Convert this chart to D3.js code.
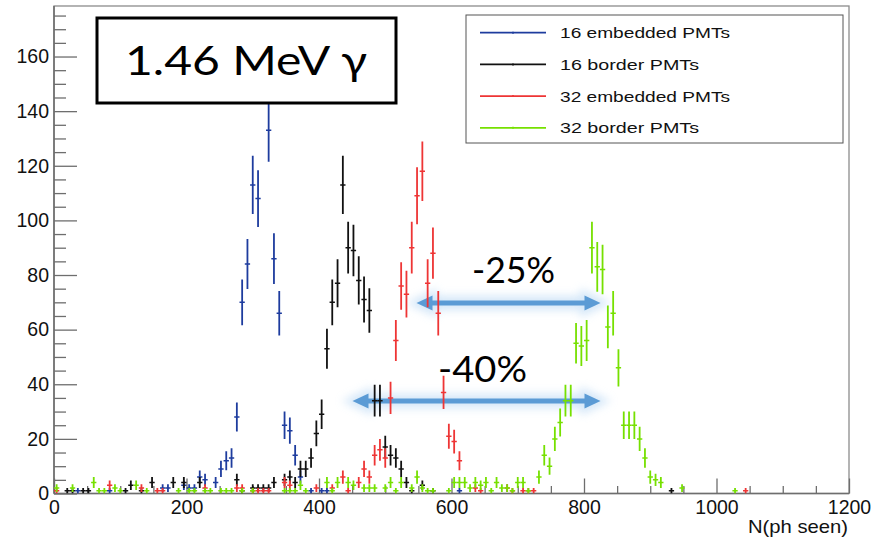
<!DOCTYPE html>
<html><head><meta charset="utf-8">
<script src="https://cdn.jsdelivr.net/npm/d3@7"></script>
<style>body{margin:0;background:#fff}svg{display:block}</style>
</head><body><svg id="c" width="874" height="540"></svg>
<script>
// ---- data: histogram bin centres (N photons seen) and counts ----
const seriesNames = ["16 embedded PMTs","16 border PMTs","32 embedded PMTs","32 border PMTs"];
const blueX = [36,84,164,172,196,204,212,220,228,244,252,260,268,276,284,292,300,308,316,324,332,340,348,356,364,372,388,404,412,612];
const blueN = [1,1,2,2,3,2,2,6,5,4,9,12,13,28,70,84,113,108,158,133,86,66,25,23,14,6,1,1,1,1];
const blackX = [20,28,44,52,108,116,132,148,180,196,220,276,284,300,308,316,324,332,348,356,364,372,380,388,396,404,412,420,428,436,444,452,460,468,476,484,492,500,508,516,524,532,540,556,572,932];
const blackN = [1,1,1,1,1,3,1,4,4,4,4,5,1,2,2,2,2,4,5,6,4,9,9,13,22,29,53,70,77,113,90,89,78,71,67,34,34,17,14,13,9,4,1,3,1,1];
const redX = [4,84,132,156,164,228,276,284,300,308,316,324,348,356,396,420,436,444,460,468,476,484,492,500,508,516,524,532,540,548,556,564,572,580,588,596,604,612,636,644,684,692,708,716,724,1044];
const redN = [1,3,2,1,1,2,2,2,1,1,1,1,4,3,2,2,6,1,4,9,6,14,16,13,35,56,76,73,90,109,118,77,88,66,37,21,19,12,2,1,2,1,1,1,1,1];
const greenX = [4,28,60,68,76,92,100,124,140,188,204,212,228,236,252,260,268,284,300,348,356,364,372,380,412,420,428,444,452,468,476,484,500,508,516,524,540,548,556,564,572,596,604,612,620,628,636,644,652,660,668,676,684,692,700,708,716,732,740,748,756,764,772,780,788,796,804,812,820,828,836,844,852,860,868,876,884,892,900,908,916,948,1028];
const greenN = [2,2,4,1,1,2,1,3,1,1,1,1,1,1,1,1,1,1,1,1,1,1,3,1,4,1,4,4,3,2,2,2,2,4,1,4,2,6,2,1,1,1,4,4,4,2,4,3,4,1,4,2,2,1,4,4,1,6,14,10,20,26,34,34,55,54,56,90,83,82,61,66,46,25,25,25,20,13,6,5,4,2,1];
const binWidth = 8;
const xMajorTicks = [0,200,400,600,800,1000,1200];
const yMajorTicks = [0,20,40,60,80,100,120,140,160];
const titleText = "1.46 MeV γ";
const noteTexts = ["-25%","-40%"];

const x=d3.scaleLinear().domain([0,1200]).range([54,849]);
const y=d3.scaleLinear().domain([0,178.5]).range([493.5,6]);
const svg=d3.select("#c");
const colors=["#1e3c9e","#111111","#ee3535","#76e000"];
const series=[[blueX,blueN],[blackX,blackN],[redX,redN],[greenX,greenN]];

const defs=svg.append("defs");
defs.append("clipPath").attr("id","plot").append("rect")
  .attr("x",x(0)).attr("y",y(178.5)).attr("width",x(1200)-x(0)).attr("height",y(0)-y(178.5));
const glow=defs.append("filter").attr("id","glow").attr("x","-20%").attr("y","-200%").attr("width","140%").attr("height","500%");
glow.append("feGaussianBlur").attr("stdDeviation",4);

// frame
svg.append("rect").attr("x",x(0)).attr("y",y(178.5)).attr("width",x(1200)-x(0)).attr("height",y(0)-y(178.5))
  .attr("fill","#fff").attr("stroke","#8c8c8c").attr("stroke-width",1.3);

// axes
const fontAxis='"Liberation Sans", Arial, Helvetica, sans-serif';
const gx=svg.append("g").attr("transform",`translate(0,${y(0)})`)
  .call(d3.axisBottom(x).tickValues(xMajorTicks).tickSize(-15).tickPadding(6.6).tickFormat(d3.format("d")));
const gxm=svg.append("g").attr("transform",`translate(0,${y(0)})`)
  .call(d3.axisBottom(x).tickValues(d3.range(0,1201,50).filter(v=>v%200)).tickSize(-7.5).tickFormat(""));
const gy=svg.append("g").attr("transform",`translate(${x(0)},0)`)
  .call(d3.axisLeft(y).tickValues(yMajorTicks).tickSize(-23).tickPadding(5).tickFormat(d3.format("d")));
const gym=svg.append("g").attr("transform",`translate(${x(0)},0)`)
  .call(d3.axisLeft(y).tickValues(d3.range(5,178,5).filter(v=>v%20)).tickSize(-12).tickFormat(""));
[gx,gxm,gy,gym].forEach(g=>{
  g.select(".domain").remove();
  g.selectAll(".tick line").attr("stroke","#6e6e6e").attr("stroke-width",1.3);
  g.selectAll("text").attr("font-family",fontAxis).attr("font-size",19.5).attr("fill","#111");
});
svg.append("line").attr("x1",x(0)).attr("x2",x(0)).attr("y1",y(178.5)).attr("y2",y(0)).attr("stroke","#6e6e6e").attr("stroke-width",1.6);
svg.append("line").attr("x1",x(0)).attr("x2",x(1200)).attr("y1",y(0)).attr("y2",y(0)).attr("stroke","#6e6e6e").attr("stroke-width",1.6);

svg.append("text").attr("x",848).attr("y",533).attr("text-anchor","end")
  .attr("font-family",fontAxis).attr("font-size",18.5).attr("fill","#111")
  .attr("textLength",100).attr("lengthAdjust","spacingAndGlyphs").text("N(ph seen)");

// arrows (drawn under the data)
function arrow(x1,x2,yy){
  const g=svg.append("g");
  const hl=16, hh=7.5;
  const path=`M${x1},${yy} L${x1+hl},${yy-hh} L${x1+hl},${yy-2.5} L${x2-hl},${yy-2.5} L${x2-hl},${yy-hh} L${x2},${yy} L${x2-hl},${yy+hh} L${x2-hl},${yy+2.5} L${x1+hl},${yy+2.5} L${x1+hl},${yy+hh} Z`;
  g.append("path").attr("d",path).attr("fill","#9cc7ee").attr("stroke","#b9d8f4").attr("stroke-width",9).attr("opacity",0.6).attr("filter","url(#glow)");
  g.append("path").attr("d",path).attr("fill","#5b9bd5");
}
arrow(416.5,600.5,303);
arrow(352.5,600.5,401);

// data points with error bars
const dataG=svg.append("g").attr("clip-path","url(#plot)");
series.forEach(([xs,ns],i)=>{
  const pts=xs.map((c,j)=>({c,n:ns[j]}));
  const g=dataG.append("g").attr("stroke",colors[i]);
  g.selectAll("line.h").data(pts).join("line").attr("class","h")
    .attr("x1",d=>x(d.c-binWidth/2)).attr("x2",d=>x(d.c+binWidth/2))
    .attr("y1",d=>y(d.n)).attr("y2",d=>y(d.n)).attr("stroke-width",1.5);
  g.selectAll("line.v").data(pts).join("line").attr("class","v")
    .attr("x1",d=>x(d.c)).attr("x2",d=>x(d.c))
    .attr("y1",d=>y(d.n-Math.sqrt(d.n))).attr("y2",d=>y(d.n+Math.sqrt(d.n))).attr("stroke-width",1.8);
});

// percentage labels
const fontNote='Lato, "Open Sans", sans-serif';
svg.append("text").attr("x",472).attr("y",283).attr("font-family",fontNote).attr("font-size",36).attr("fill","#000")
  .attr("textLength",83).attr("lengthAdjust","spacingAndGlyphs").text(noteTexts[0]);
svg.append("text").attr("x",438).attr("y",382).attr("font-family",fontNote).attr("font-size",36).attr("fill","#000")
  .attr("textLength",89).attr("lengthAdjust","spacingAndGlyphs").text(noteTexts[1]);

// title box
svg.append("rect").attr("x",97).attr("y",18).attr("width",299).attr("height",85)
  .attr("fill","#fff").attr("stroke","#000").attr("stroke-width",3);
svg.append("text").attr("x",125).attr("y",75).attr("font-family",fontNote).attr("font-size",40).attr("fill","#000")
  .attr("textLength",242).attr("lengthAdjust","spacingAndGlyphs").text(titleText);

// legend
const lg=svg.append("g");
lg.append("rect").attr("x",466).attr("y",15).attr("width",377).attr("height",128)
  .attr("fill","#fff").attr("stroke","#555").attr("stroke-width",1);
const lens=[170,139,170,139];
seriesNames.forEach((nm,i)=>{
  const by=38.3+i*31.7;
  lg.append("line").attr("x1",480).attr("x2",546).attr("y1",by-5.6).attr("y2",by-5.6)
    .attr("stroke",colors[i]).attr("stroke-width",1.8);
  lg.append("line").attr("x1",513).attr("x2",513).attr("y1",by-6.6).attr("y2",by-4.6)
    .attr("stroke",colors[i]).attr("stroke-width",1.5);
  lg.append("text").attr("x",560).attr("y",by).attr("font-family",fontAxis).attr("font-size",15.5).attr("fill","#111")
    .attr("textLength",lens[i]).attr("lengthAdjust","spacingAndGlyphs").text(nm);
});
</script></body></html>
